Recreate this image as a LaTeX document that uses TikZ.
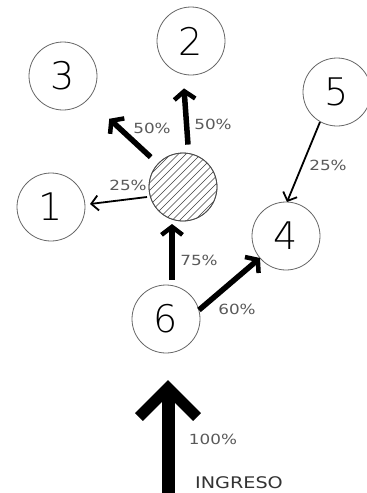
\documentclass[tikz,border=0pt]{standalone}
\usepackage{fontspec}
\setmainfont{DejaVu Sans}
\newfontfamily\digfont{DejaVu Sans ExtraLight}
\newfontfamily\pctfont[FakeStretch=1.2]{DejaVu Sans}
\usetikzlibrary{arrows.meta,calc}
\begin{document}
\begin{tikzpicture}[x=1pt,y=-1pt,
  circ/.style={circle,draw=black!60,line width=0.8pt,minimum size=68pt,inner sep=0pt,
    font=\digfont\fontsize{38}{38}\selectfont},
  pct/.style={text=black!65,font=\pctfont\fontsize{14}{14}\selectfont,inner sep=0pt},
  fatarrow/.style={line width=5.5pt,-{Straight Barb[length=8pt,width=21pt,line width=4.5pt]}},
  thinarrow/.style={line width=1.8pt,-{Straight Barb[length=7pt,width=15pt,line width=1.8pt]}}]
\useasboundingbox (0,0) rectangle (367,493);
% circles
\node[circ] (n1) at (51,207) {1};
\node[circ] (n2) at (191,41) {2};
\node[circ] (n3) at (63,76) {3};
\node[circ] (n4) at (286,236) {4};
\node[circ] (n5) at (337,92) {5};
\node[circ] (n6) at (166,319) {6};
\node[circ] (h) at (183,187) {};
\begin{scope}
  \clip (h) circle (34pt);
  \foreach \d in {-105,-97.5,...,105}
    \draw[line width=0.5pt,black!75] ($(h)+(\d,0)+(-50,50)$) -- ($(h)+(\d,0)+(50,-50)$);
\end{scope}
\draw[black!70,line width=0.8pt] (h) circle (34pt);
% arrows
\draw[fatarrow] ($(h)!44pt!(n3)$) -- ($(n3)!63pt!(h)$);
\draw[fatarrow] ($(h.north)+(5,-8)$) -- ($(n2.south)+(-7,13)$);
\draw[thinarrow] ($(h)+(-36,10)$) -- ($(n1)+(39,-3)$);
\draw[thinarrow] ($(n5)+(-17,30)$) -- ($(n4)+(1,-34)$);
\draw[fatarrow] ($(n6)+(6,-39)$) -- ($(h)+(-11,37)$);
\draw[fatarrow] ($(n6)+(33,-9)$) -- ($(n4)+(-26,22)$);
% big entrance arrow
\coordinate (src) at (168,494);
\coordinate (tipb) at (168,388);
\draw[line width=13pt] (src) -- ($(tipb)+(0,4)$);
\draw[line width=11pt,miter limit=10] ($(tipb)+(-29,29)$) -- (tipb) -- ($(tipb)+(29,29)$);
% labels
\node[pct] (l3) at (152,128) {50\%};
\node[pct] (l2) at (213,124) {50\%};
\node[pct] (l1) at (128,185) {25\%};
\node[pct] (l4) at (328,165) {25\%};
\node[pct] (l6) at (199,260) {75\%};
\node[pct] (l64) at (237,309) {60\%};
\node[pct] (l100) at (213,439) {100\%};
\node[pct,text=black!80,font=\pctfont\fontsize{16}{16}\selectfont] (ing) at (239,483) {INGRESO};
\end{tikzpicture}
\end{document}
